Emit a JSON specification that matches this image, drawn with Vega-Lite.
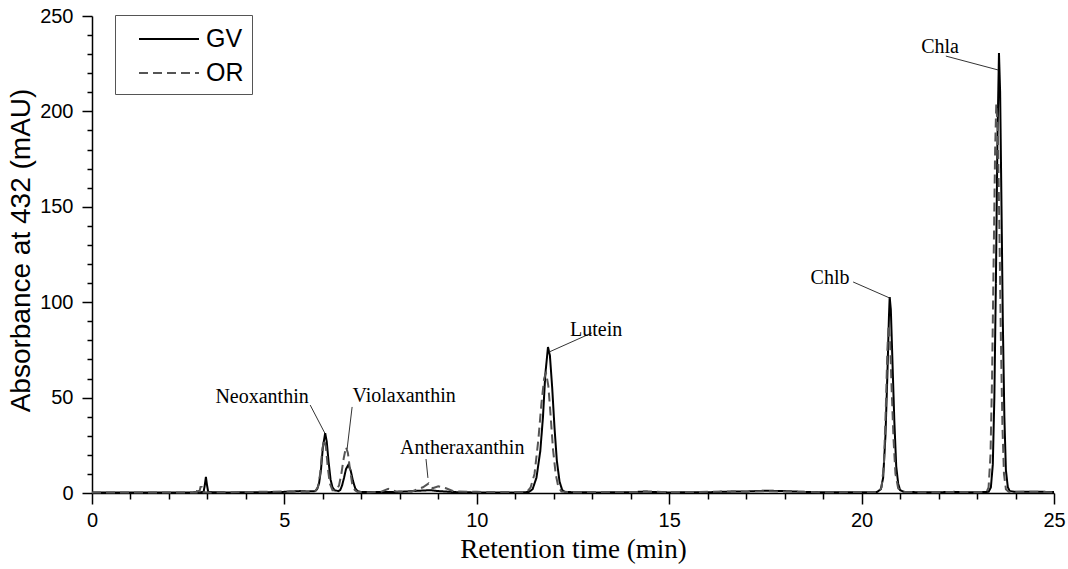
{
  "$schema": "https://vega.github.io/schema/vega-lite/v6.json",
  "width": 962,
  "height": 477,
  "autosize": {"type": "none"},
  "padding": {"left": 92, "top": 16, "right": 14, "bottom": 76},
  "background": "white",
  "config": {
    "view": {"stroke": null},
    "axis": {"grid": false, "domainColor": "#000", "domainWidth": 1.5, "tickColor": "#000", "tickWidth": 1.5, "labelColor": "#000", "titleColor": "#000", "labelFont": "Liberation Sans", "labelFontSize": 20, "labelOverlap": false, "labelBound": false, "labelFlush": false}
  },
  "datasets": {
    "curves": [
      {"t": 0, "abs": 0.2, "sample": "GV"},
      {"t": 1, "abs": 0.2, "sample": "GV"},
      {"t": 2, "abs": 0.2, "sample": "GV"},
      {"t": 2.6, "abs": 0.3, "sample": "GV"},
      {"t": 2.9, "abs": 0.5, "sample": "GV"},
      {"t": 2.93, "abs": 4, "sample": "GV"},
      {"t": 2.96, "abs": 8.4, "sample": "GV"},
      {"t": 2.99, "abs": 4, "sample": "GV"},
      {"t": 3.02, "abs": 0.5, "sample": "GV"},
      {"t": 3.5, "abs": 0.3, "sample": "GV"},
      {"t": 4.5, "abs": 0.4, "sample": "GV"},
      {"t": 5.0, "abs": 0.6, "sample": "GV"},
      {"t": 5.4, "abs": 1.0, "sample": "GV"},
      {"t": 5.6, "abs": 0.8, "sample": "GV"},
      {"t": 5.8, "abs": 1.0, "sample": "GV"},
      {"t": 5.85, "abs": 2, "sample": "GV"},
      {"t": 5.9, "abs": 5, "sample": "GV"},
      {"t": 5.95, "abs": 12, "sample": "GV"},
      {"t": 6.0, "abs": 24, "sample": "GV"},
      {"t": 6.06, "abs": 31.4, "sample": "GV"},
      {"t": 6.1, "abs": 27, "sample": "GV"},
      {"t": 6.15, "abs": 16, "sample": "GV"},
      {"t": 6.2, "abs": 7, "sample": "GV"},
      {"t": 6.25, "abs": 3, "sample": "GV"},
      {"t": 6.3, "abs": 1.5, "sample": "GV"},
      {"t": 6.4, "abs": 1.0, "sample": "GV"},
      {"t": 6.45, "abs": 1.5, "sample": "GV"},
      {"t": 6.5, "abs": 4, "sample": "GV"},
      {"t": 6.55, "abs": 8, "sample": "GV"},
      {"t": 6.6, "abs": 12.5, "sample": "GV"},
      {"t": 6.66, "abs": 14.7, "sample": "GV"},
      {"t": 6.72, "abs": 12, "sample": "GV"},
      {"t": 6.78, "abs": 6.5, "sample": "GV"},
      {"t": 6.84, "abs": 2.5, "sample": "GV"},
      {"t": 6.9, "abs": 1, "sample": "GV"},
      {"t": 7.0, "abs": 0.5, "sample": "GV"},
      {"t": 7.5, "abs": 0.5, "sample": "GV"},
      {"t": 8.0, "abs": 0.6, "sample": "GV"},
      {"t": 8.5, "abs": 1.2, "sample": "GV"},
      {"t": 8.8, "abs": 1.5, "sample": "GV"},
      {"t": 9.0, "abs": 1.0, "sample": "GV"},
      {"t": 9.5, "abs": 0.4, "sample": "GV"},
      {"t": 10, "abs": 0.3, "sample": "GV"},
      {"t": 11, "abs": 0.3, "sample": "GV"},
      {"t": 11.35, "abs": 0.5, "sample": "GV"},
      {"t": 11.45, "abs": 2, "sample": "GV"},
      {"t": 11.55, "abs": 8, "sample": "GV"},
      {"t": 11.65, "abs": 22, "sample": "GV"},
      {"t": 11.72, "abs": 40, "sample": "GV"},
      {"t": 11.78, "abs": 62, "sample": "GV"},
      {"t": 11.85, "abs": 76.5, "sample": "GV"},
      {"t": 11.9, "abs": 72, "sample": "GV"},
      {"t": 11.96, "abs": 55, "sample": "GV"},
      {"t": 12.02, "abs": 34, "sample": "GV"},
      {"t": 12.08, "abs": 17, "sample": "GV"},
      {"t": 12.15, "abs": 6, "sample": "GV"},
      {"t": 12.22, "abs": 1.5, "sample": "GV"},
      {"t": 12.3, "abs": 0.5, "sample": "GV"},
      {"t": 13, "abs": 0.3, "sample": "GV"},
      {"t": 14, "abs": 0.4, "sample": "GV"},
      {"t": 14.4, "abs": 0.8, "sample": "GV"},
      {"t": 14.6, "abs": 0.5, "sample": "GV"},
      {"t": 15, "abs": 0.3, "sample": "GV"},
      {"t": 16, "abs": 0.4, "sample": "GV"},
      {"t": 16.5, "abs": 0.7, "sample": "GV"},
      {"t": 17, "abs": 0.8, "sample": "GV"},
      {"t": 17.5, "abs": 1.2, "sample": "GV"},
      {"t": 18, "abs": 1.0, "sample": "GV"},
      {"t": 18.5, "abs": 0.6, "sample": "GV"},
      {"t": 19, "abs": 0.4, "sample": "GV"},
      {"t": 20, "abs": 0.4, "sample": "GV"},
      {"t": 20.4, "abs": 0.5, "sample": "GV"},
      {"t": 20.5, "abs": 2, "sample": "GV"},
      {"t": 20.56, "abs": 8, "sample": "GV"},
      {"t": 20.62, "abs": 30, "sample": "GV"},
      {"t": 20.67, "abs": 62, "sample": "GV"},
      {"t": 20.71, "abs": 92, "sample": "GV"},
      {"t": 20.73, "abs": 102.7, "sample": "GV"},
      {"t": 20.76, "abs": 96, "sample": "GV"},
      {"t": 20.8, "abs": 70, "sample": "GV"},
      {"t": 20.85, "abs": 38, "sample": "GV"},
      {"t": 20.9, "abs": 14, "sample": "GV"},
      {"t": 20.95, "abs": 5, "sample": "GV"},
      {"t": 21.0, "abs": 1.5, "sample": "GV"},
      {"t": 21.1, "abs": 0.6, "sample": "GV"},
      {"t": 21.5, "abs": 0.4, "sample": "GV"},
      {"t": 22, "abs": 0.4, "sample": "GV"},
      {"t": 22.4, "abs": 0.6, "sample": "GV"},
      {"t": 22.6, "abs": 0.4, "sample": "GV"},
      {"t": 23, "abs": 0.4, "sample": "GV"},
      {"t": 23.3, "abs": 0.6, "sample": "GV"},
      {"t": 23.36, "abs": 3, "sample": "GV"},
      {"t": 23.41, "abs": 15, "sample": "GV"},
      {"t": 23.45, "abs": 50, "sample": "GV"},
      {"t": 23.49, "abs": 110, "sample": "GV"},
      {"t": 23.53, "abs": 185, "sample": "GV"},
      {"t": 23.57, "abs": 230.6, "sample": "GV"},
      {"t": 23.6, "abs": 210, "sample": "GV"},
      {"t": 23.63, "abs": 160, "sample": "GV"},
      {"t": 23.67, "abs": 90, "sample": "GV"},
      {"t": 23.71, "abs": 40, "sample": "GV"},
      {"t": 23.75, "abs": 12, "sample": "GV"},
      {"t": 23.8, "abs": 3, "sample": "GV"},
      {"t": 23.85, "abs": 1, "sample": "GV"},
      {"t": 24, "abs": 0.6, "sample": "GV"},
      {"t": 24.5, "abs": 0.7, "sample": "GV"},
      {"t": 25, "abs": 0.5, "sample": "GV"},

      {"t": 0, "abs": 0.3, "sample": "OR"},
      {"t": 2.6, "abs": 0.3, "sample": "OR"},
      {"t": 2.72, "abs": 0.3, "sample": "OR"},
      {"t": 2.74, "abs": 2.6, "sample": "OR"},
      {"t": 2.77, "abs": 2.6, "sample": "OR"},
      {"t": 2.79, "abs": 0.5, "sample": "OR"},
      {"t": 2.82, "abs": 3.1, "sample": "OR"},
      {"t": 2.85, "abs": 3.1, "sample": "OR"},
      {"t": 2.87, "abs": 0.4, "sample": "OR"},
      {"t": 3.1, "abs": 0.3, "sample": "OR"},
      {"t": 4, "abs": 0.5, "sample": "OR"},
      {"t": 5, "abs": 0.8, "sample": "OR"},
      {"t": 5.5, "abs": 0.6, "sample": "OR"},
      {"t": 5.8, "abs": 1.0, "sample": "OR"},
      {"t": 5.87, "abs": 3, "sample": "OR"},
      {"t": 5.93, "abs": 10, "sample": "OR"},
      {"t": 5.98, "abs": 22, "sample": "OR"},
      {"t": 6.03, "abs": 28, "sample": "OR"},
      {"t": 6.08, "abs": 24, "sample": "OR"},
      {"t": 6.13, "abs": 13, "sample": "OR"},
      {"t": 6.18, "abs": 5, "sample": "OR"},
      {"t": 6.25, "abs": 1.5, "sample": "OR"},
      {"t": 6.35, "abs": 1.5, "sample": "OR"},
      {"t": 6.42, "abs": 4, "sample": "OR"},
      {"t": 6.48, "abs": 10, "sample": "OR"},
      {"t": 6.54, "abs": 18, "sample": "OR"},
      {"t": 6.6, "abs": 24.1, "sample": "OR"},
      {"t": 6.65, "abs": 21, "sample": "OR"},
      {"t": 6.7, "abs": 13, "sample": "OR"},
      {"t": 6.76, "abs": 5, "sample": "OR"},
      {"t": 6.83, "abs": 1.5, "sample": "OR"},
      {"t": 6.9, "abs": 0.5, "sample": "OR"},
      {"t": 7.2, "abs": 0.4, "sample": "OR"},
      {"t": 7.5, "abs": 0.6, "sample": "OR"},
      {"t": 7.7, "abs": 2.2, "sample": "OR"},
      {"t": 7.9, "abs": 0.8, "sample": "OR"},
      {"t": 8.3, "abs": 0.7, "sample": "OR"},
      {"t": 8.6, "abs": 3, "sample": "OR"},
      {"t": 8.75, "abs": 5, "sample": "OR"},
      {"t": 8.85, "abs": 2.5, "sample": "OR"},
      {"t": 9.0, "abs": 3.5, "sample": "OR"},
      {"t": 9.2, "abs": 2.5, "sample": "OR"},
      {"t": 9.4, "abs": 0.8, "sample": "OR"},
      {"t": 10, "abs": 0.6, "sample": "OR"},
      {"t": 11, "abs": 0.5, "sample": "OR"},
      {"t": 11.3, "abs": 0.6, "sample": "OR"},
      {"t": 11.4, "abs": 3, "sample": "OR"},
      {"t": 11.5, "abs": 10, "sample": "OR"},
      {"t": 11.6, "abs": 28, "sample": "OR"},
      {"t": 11.68, "abs": 47, "sample": "OR"},
      {"t": 11.75, "abs": 60, "sample": "OR"},
      {"t": 11.8, "abs": 62.9, "sample": "OR"},
      {"t": 11.86, "abs": 56, "sample": "OR"},
      {"t": 11.92, "abs": 40, "sample": "OR"},
      {"t": 11.98, "abs": 23, "sample": "OR"},
      {"t": 12.05, "abs": 10, "sample": "OR"},
      {"t": 12.12, "abs": 3, "sample": "OR"},
      {"t": 12.2, "abs": 0.8, "sample": "OR"},
      {"t": 12.5, "abs": 0.4, "sample": "OR"},
      {"t": 13, "abs": 0.5, "sample": "OR"},
      {"t": 14, "abs": 0.5, "sample": "OR"},
      {"t": 14.5, "abs": 0.7, "sample": "OR"},
      {"t": 15, "abs": 0.4, "sample": "OR"},
      {"t": 16, "abs": 0.6, "sample": "OR"},
      {"t": 16.5, "abs": 0.8, "sample": "OR"},
      {"t": 17, "abs": 0.7, "sample": "OR"},
      {"t": 17.5, "abs": 0.9, "sample": "OR"},
      {"t": 18, "abs": 0.8, "sample": "OR"},
      {"t": 19, "abs": 0.4, "sample": "OR"},
      {"t": 20, "abs": 0.5, "sample": "OR"},
      {"t": 20.45, "abs": 0.6, "sample": "OR"},
      {"t": 20.52, "abs": 3, "sample": "OR"},
      {"t": 20.58, "abs": 15, "sample": "OR"},
      {"t": 20.63, "abs": 45, "sample": "OR"},
      {"t": 20.67, "abs": 75, "sample": "OR"},
      {"t": 20.7, "abs": 88, "sample": "OR"},
      {"t": 20.74, "abs": 80, "sample": "OR"},
      {"t": 20.78, "abs": 55, "sample": "OR"},
      {"t": 20.83, "abs": 28, "sample": "OR"},
      {"t": 20.88, "abs": 10, "sample": "OR"},
      {"t": 20.95, "abs": 2.5, "sample": "OR"},
      {"t": 21.05, "abs": 0.6, "sample": "OR"},
      {"t": 21.5, "abs": 0.4, "sample": "OR"},
      {"t": 22, "abs": 0.4, "sample": "OR"},
      {"t": 22.5, "abs": 0.6, "sample": "OR"},
      {"t": 23, "abs": 0.4, "sample": "OR"},
      {"t": 23.25, "abs": 0.6, "sample": "OR"},
      {"t": 23.3, "abs": 3, "sample": "OR"},
      {"t": 23.35, "abs": 20, "sample": "OR"},
      {"t": 23.39, "abs": 60, "sample": "OR"},
      {"t": 23.43, "abs": 120, "sample": "OR"},
      {"t": 23.47, "abs": 180, "sample": "OR"},
      {"t": 23.5, "abs": 204, "sample": "OR"},
      {"t": 23.54, "abs": 190, "sample": "OR"},
      {"t": 23.58, "abs": 140, "sample": "OR"},
      {"t": 23.62, "abs": 80, "sample": "OR"},
      {"t": 23.66, "abs": 35, "sample": "OR"},
      {"t": 23.7, "abs": 10, "sample": "OR"},
      {"t": 23.75, "abs": 2, "sample": "OR"},
      {"t": 23.82, "abs": 0.6, "sample": "OR"},
      {"t": 24, "abs": 0.5, "sample": "OR"},
      {"t": 24.5, "abs": 0.7, "sample": "OR"},
      {"t": 25, "abs": 0.4, "sample": "OR"}
    ],
    "labels": [
      {"t": 4.42, "abs": 50.3, "name": "Neoxanthin"},
      {"t": 8.11, "abs": 50.8, "name": "Violaxanthin"},
      {"t": 9.62, "abs": 23.6, "name": "Antheraxanthin"},
      {"t": 13.1, "abs": 85.4, "name": "Lutein"},
      {"t": 19.18, "abs": 112.7, "name": "Chlb"},
      {"t": 22.04, "abs": 233.7, "name": "Chla"}
    ],
    "leaders": [
      {"t": 5.67, "abs": 46.1, "t2": 6.05, "a2": 31.4},
      {"t": 6.76, "abs": 45.1, "t2": 6.63, "a2": 23.1},
      {"t": 8.68, "abs": 17.8, "t2": 8.73, "a2": 7.9},
      {"t": 12.99, "abs": 83.9, "t2": 11.88, "a2": 73.9},
      {"t": 19.78, "abs": 110.6, "t2": 20.73, "a2": 102.2},
      {"t": 22.19, "abs": 229.0, "t2": 23.55, "a2": 221.7}
    ]
  },
  "encoding": {
    "x": {
      "field": "t", "type": "quantitative",
      "scale": {"domain": [0, 25], "nice": false, "zero": false},
      "axis": {
        "title": "Retention time (min)",
        "titleFont": "Liberation Serif", "titleFontSize": 27, "titleFontWeight": "normal",
        "titleX": 481, "titleY": 64, "titleBaseline": "alphabetic", "titleAlign": "center",
        "values": [0,1,2,3,4,5,6,7,8,9,10,11,12,13,14,15,16,17,18,19,20,21,22,23,24,25],
        "tickSize": {"condition": {"test": "datum.value % 5 === 0", "value": 11}, "value": 6},
        "labelExpr": "datum.value % 5 === 0 ? datum.label : ''",
        "labelPadding": 6
      }
    },
    "y": {
      "field": "abs", "type": "quantitative",
      "scale": {"domain": [0, 250], "nice": false},
      "axis": {
        "title": "Absorbance at 432 (mAU)",
        "titleFont": "Liberation Sans", "titleFontSize": 28, "titleFontWeight": "normal",
        "titleX": -71, "titleY": 234, "titleAngle": -90, "titleAlign": "center", "titleBaseline": "middle",
        "values": [0,10,20,30,40,50,60,70,80,90,100,110,120,130,140,150,160,170,180,190,200,210,220,230,240,250],
        "tickSize": {"condition": {"test": "datum.value % 50 === 0", "value": 10}, "value": 5},
        "labelExpr": "datum.value % 50 === 0 ? datum.label : ''",
        "labelPadding": 9
      }
    }
  },
  "layer": [
    {
      "data": {"name": "curves"},
      "mark": {"type": "line", "strokeWidth": 2},
      "encoding": {
        "color": {
          "field": "sample", "type": "nominal",
          "scale": {"domain": ["GV", "OR"], "range": ["#000000", "#555555"]},
          "legend": {
            "title": null, "orient": "none", "legendX": 23, "legendY": -1,
            "strokeColor": "#555", "padding": 8, "fillColor": "white",
            "symbolType": "M-2,0H2", "symbolSize": 900, "symbolStrokeWidth": 2, "symbolOffset": 30,
            "labelFont": "Liberation Sans", "labelFontSize": 25, "labelColor": "#000",
            "rowPadding": 5, "labelOffset": 21
          }
        },
        "strokeDash": {
          "field": "sample", "type": "nominal",
          "scale": {"domain": ["GV", "OR"], "range": [[1, 0], [9, 5]]},
          "legend": {
            "title": null, "orient": "none", "legendX": 23, "legendY": -1,
            "strokeColor": "#555", "padding": 8, "fillColor": "white",
            "symbolType": "M-2,0H2", "symbolSize": 900, "symbolStrokeWidth": 2, "symbolOffset": 30,
            "labelFont": "Liberation Sans", "labelFontSize": 25, "labelColor": "#000",
            "rowPadding": 5, "labelOffset": 21
          }
        }
      }
    },
    {
      "data": {"name": "leaders"},
      "mark": {"type": "rule", "color": "#333", "strokeWidth": 1},
      "encoding": {
        "x2": {"field": "t2"},
        "y2": {"field": "a2"}
      }
    },
    {
      "data": {"name": "labels"},
      "mark": {"type": "text", "font": "Liberation Serif", "fontSize": 20, "color": "#000", "align": "center", "baseline": "middle"},
      "encoding": {
        "text": {"field": "name"}
      }
    }
  ]
}
